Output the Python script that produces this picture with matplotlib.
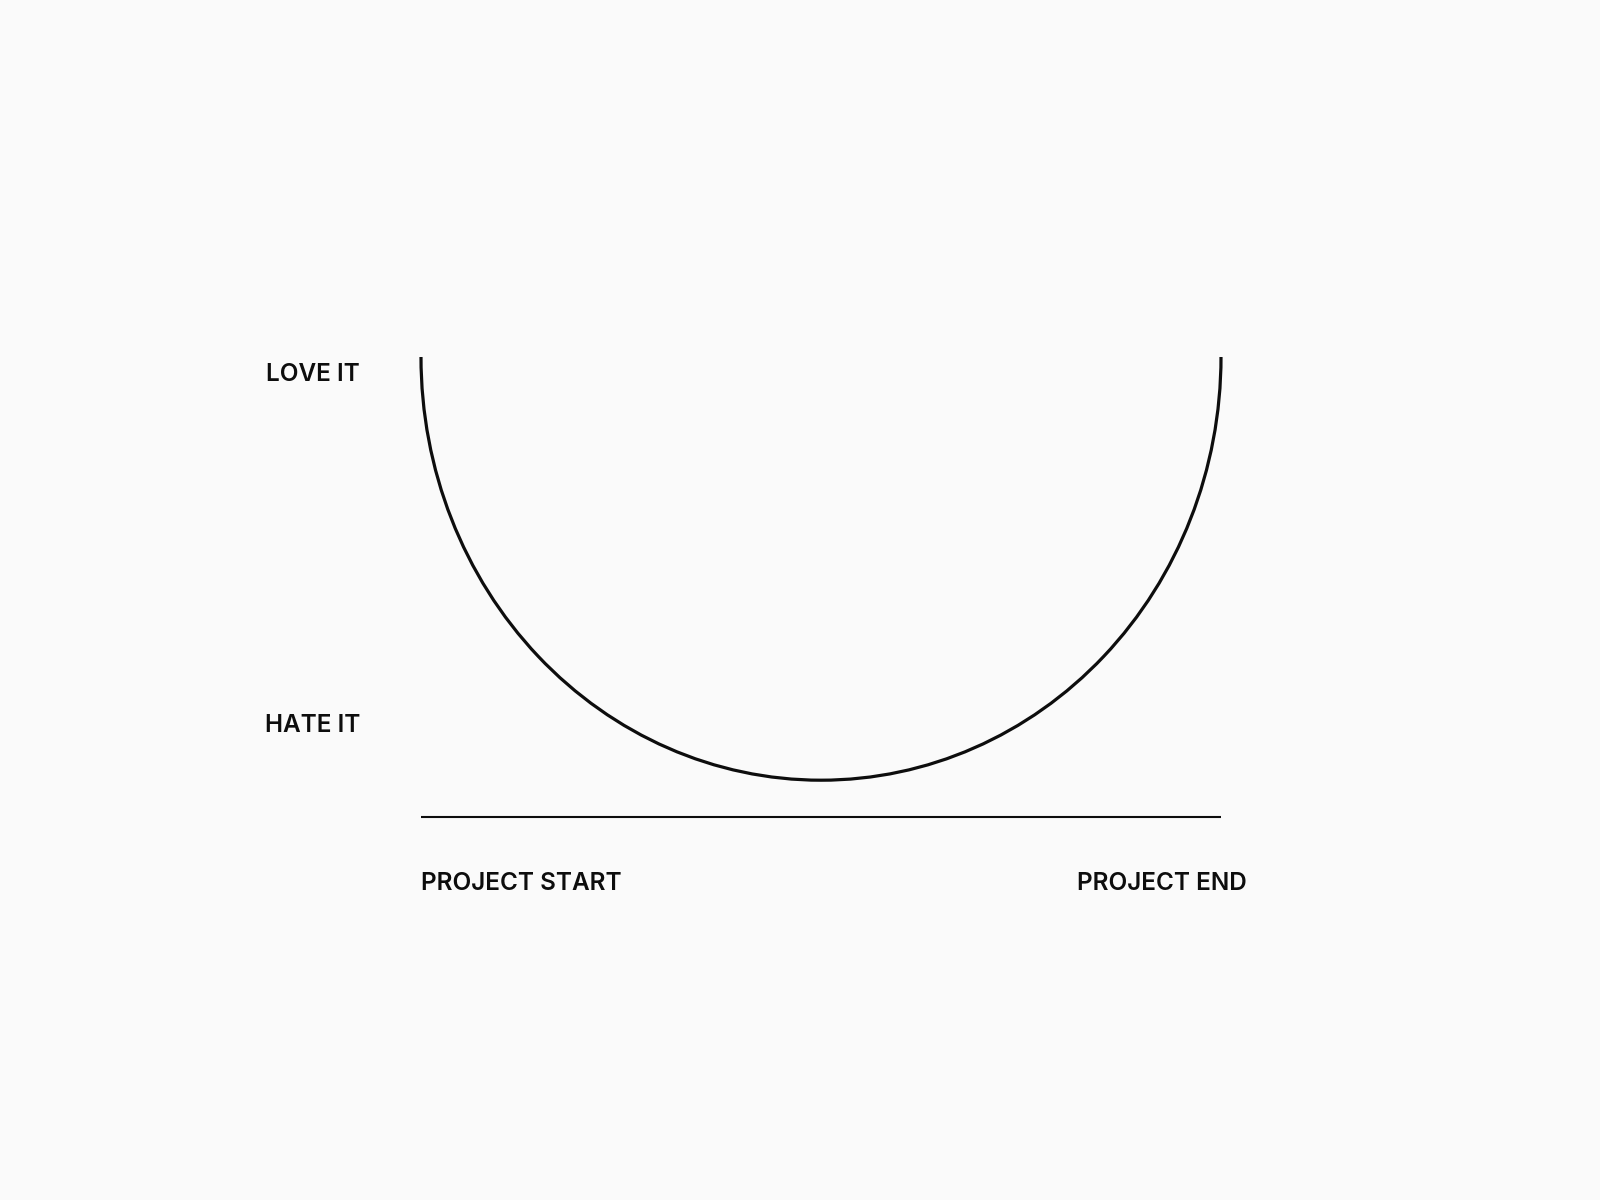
import matplotlib
matplotlib.use("Agg")
import matplotlib.pyplot as plt
from matplotlib.patches import Arc

# ---- data ----
feeling_labels = ["LOVE IT", "HATE IT"]
feeling_levels = [0.962, 0.200]          # position of feeling labels on the mood scale
phase_labels = ["PROJECT START", "PROJECT END"]
phase_positions = [0.0, 0.926]           # start (left aligned), end (centred)
timeline = [0.0, 1.0]                    # project start -> end
curve_start_level = 1.0                  # mood at project start / end
curve_low_level = 0.080                  # lowest mood mid-project
baseline_level = 0.0

BG = "#fafafa"
INK = "#0d0d0d"
FONT = ["Inter", "DejaVu Sans"]

fig = plt.figure(figsize=(16, 12), dpi=100, facecolor=BG)
# axes spans x: 421..1221 px, y: 357..817 px
ax = fig.add_axes([421 / 1600, 1 - 817 / 1200, 800 / 1600, 460 / 1200])
ax.set_facecolor(BG)
ax.set_xlim(timeline[0], timeline[1])
ax.set_ylim(baseline_level, curve_start_level)
for s in ax.spines.values():
    s.set_visible(False)
ax.set_xticks([])
ax.set_yticks([])

# baseline
ax.plot(timeline, [baseline_level, baseline_level], color=INK, lw=1.5,
        solid_capstyle="butt", clip_on=False)

# U-shaped curve (half ellipse)
cx = (timeline[0] + timeline[1]) / 2
arc = Arc((cx, curve_start_level), width=timeline[1] - timeline[0],
          height=2 * (curve_start_level - curve_low_level),
          theta1=180, theta2=360, color=INK, lw=2.3, clip_on=False)
arc.set_capstyle("butt")
ax.add_patch(arc)

# feeling labels (left)
for lab, lev in zip(feeling_labels, feeling_levels):
    ax.annotate(lab, xy=(0, lev), xycoords=("axes fraction", "data"),
                xytext=(-61, 0), textcoords="offset pixels",
                ha="right", va="center", fontsize=17.5, fontweight="semibold",
                family=FONT, color=INK, annotation_clip=False)

# phase labels (bottom)
aligns = ["left", "center"]
for lab, pos, ha in zip(phase_labels, phase_positions, aligns):
    ax.annotate(lab, xy=(pos, baseline_level), xycoords="data",
                xytext=(0, -66), textcoords="offset pixels",
                ha=ha, va="center", fontsize=17.5, fontweight="semibold",
                family=FONT, color=INK, annotation_clip=False)

fig.savefig("out.png", dpi=100, facecolor=BG)
